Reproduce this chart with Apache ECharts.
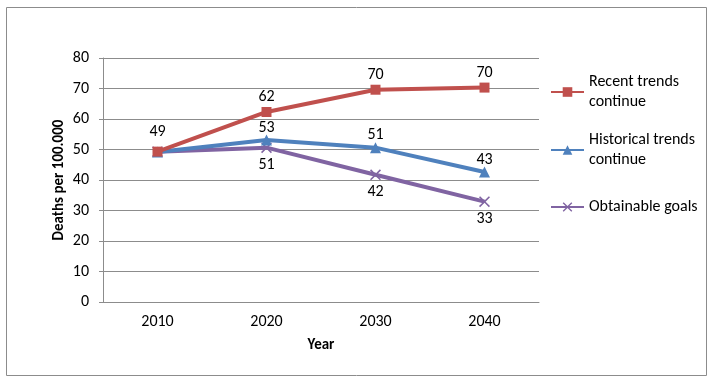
<!DOCTYPE html>
<html>
<head>
<meta charset="utf-8"/>
<script src="https://cdn.jsdelivr.net/npm/echarts@6/dist/echarts.min.js"></script>
<style>
  html,body{margin:0;padding:0;background:#fff;}
  #chart{width:716px;height:383px;}
</style>
</head>
<body>
<div id="chart"></div>
<script>
// data
var years = ['2010', '2020', '2030', '2040'];
var recent = [49.3, 62.3, 69.6, 70.3];
var historical = [49.2, 53.1, 50.6, 42.6];
var obtainable = [49.3, 50.6, 41.7, 32.9];
var yTicks = [0, 80, 10]; // min, max, step

var FONT = 'Carlito, Lato, sans-serif';
var FS = 16;
var crossPath = 'path://M0,1L1,0L5,4L9,0L10,1L6,5L10,9L9,10L5,6L1,10L0,9L4,5Z';

var chart = echarts.init(document.getElementById('chart'));

function lbl(pos, dist){
  return {
    show:true, position:pos, distance:dist,
    color:'#000', fontFamily:FONT, fontSize:FS,
    formatter:function(p){ return Math.round(p.value); }
  };
}

// hide the overlapping 2010 labels for two of the series
function dataWithHidden(arr){
  return arr.map(function(v, i){
    return i === 0 ? {value:v, label:{show:false}} : v;
  });
}

var recentData = recent.map(function(v, i){
  return i === 0 ? {value:v, label:{distance:7}} : v;
});

chart.setOption({
  animation:false,
  textStyle:{fontFamily:FONT},
  graphic:[{
    type:'rect',
    shape:{x:6.5, y:7.5, width:700, height:368},
    style:{fill:null, stroke:'#8c8c8c', lineWidth:1},
    silent:true
  }],
  grid:{left:103, right:177, top:58, bottom:81},
  legend:[
    {
      orient:'vertical', left:550, top:62, padding:0,
      itemWidth:33, itemHeight:12,
      data:[{name:'Recent trends continue', textStyle:{padding:[20,0,0,0]}}],
      formatter:function(){ return 'Recent trends\ncontinue'; },
      textStyle:{fontFamily:FONT, fontSize:FS, color:'#000', lineHeight:20}
    },
    {
      orient:'vertical', left:550, top:120, padding:0,
      itemWidth:33, itemHeight:12,
      data:[{name:'Historical trends continue', textStyle:{padding:[20,0,0,0]}}],
      formatter:function(){ return 'Historical trends\ncontinue'; },
      textStyle:{fontFamily:FONT, fontSize:FS, color:'#000', lineHeight:20}
    },
    {
      orient:'vertical', left:550, top:197, padding:0,
      itemWidth:33, itemHeight:12,
      data:['Obtainable goals'],
      textStyle:{fontFamily:FONT, fontSize:FS, color:'#000', lineHeight:20}
    }
  ],
  xAxis:{
    type:'category',
    data:years,
    boundaryGap:true,
    name:'Year',
    nameLocation:'middle',
    nameGap:36,
    nameTextStyle:{fontFamily:FONT, fontSize:15, fontWeight:'bold', color:'#000'},
    axisLine:{lineStyle:{color:'#8c8c8c', width:1}},
    axisTick:{show:false},
    axisLabel:{color:'#000', fontFamily:FONT, fontSize:FS, margin:12}
  },
  yAxis:{
    type:'value',
    min:yTicks[0], max:yTicks[1], interval:yTicks[2],
    name:'Deaths per 100.000',
    nameLocation:'middle',
    nameGap:36,
    nameMoveOverlap:false,
    nameTextStyle:{fontFamily:FONT, fontSize:15, fontWeight:'bold', color:'#000'},
    axisLine:{show:true, lineStyle:{color:'#8c8c8c', width:1}},
    axisTick:{show:true, length:4, lineStyle:{color:'#8c8c8c'}},
    axisLabel:{color:'#000', fontFamily:FONT, fontSize:FS, margin:14},
    splitLine:{lineStyle:{color:'#8c8c8c', width:1}}
  },
  series:[
    {
      name:'Recent trends continue',
      type:'line',
      data:recentData,
      symbol:'rect', symbolSize:10,
      lineStyle:{color:'#C0504D', width:4},
      itemStyle:{color:'#C0504D'},
      label:lbl('top', 2),
      z:4
    },
    {
      name:'Historical trends continue',
      type:'line',
      data:dataWithHidden(historical),
      symbol:'triangle', symbolSize:11,
      lineStyle:{color:'#4F81BD', width:4},
      itemStyle:{color:'#4F81BD'},
      label:lbl('top', -1),
      z:3
    },
    {
      name:'Obtainable goals',
      type:'line',
      data:dataWithHidden(obtainable),
      symbol:crossPath, symbolSize:11,
      lineStyle:{color:'#8064A2', width:4},
      itemStyle:{color:'#8064A2'},
      label:lbl('bottom', 4),
      z:2
    }
  ]
});
</script>
</body>
</html>
